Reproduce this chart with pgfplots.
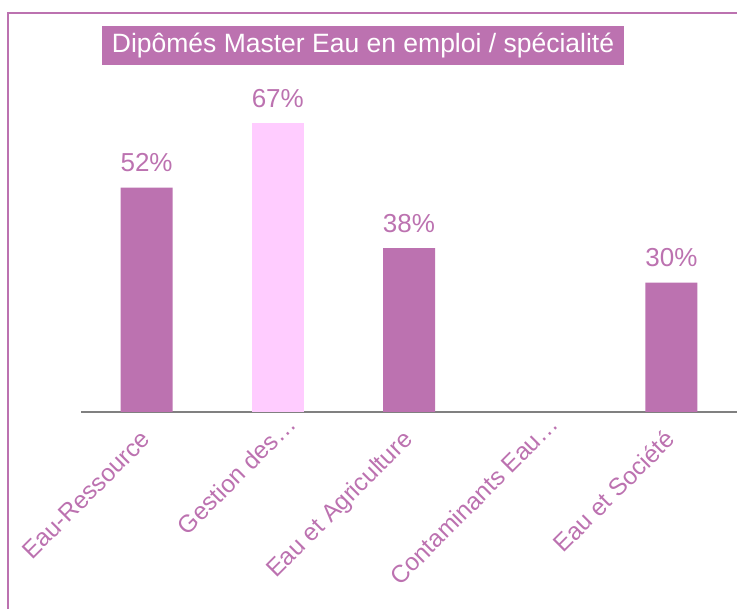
\documentclass[border=0pt]{standalone}
\usepackage{pgfplots}
\pgfplotsset{compat=1.18}
\usepackage{fontspec}
\setmainfont{Liberation Sans}
\definecolor{mauve}{HTML}{BC72B0}
\definecolor{rose}{HTML}{FFCCFF}
\definecolor{axgray}{HTML}{808080}
\newcommand{\bigf}{\fontsize{24.5bp}{30bp}\selectfont}
\begin{document}
\begin{tikzpicture}[x=1bp,y=1bp]
\useasboundingbox (0,0) rectangle (737,609);
\draw[mauve, line width=1.6bp] (8,-5) -- (8,596) -- (745,596);
\node[fill=mauve, text=white, minimum width=522bp, minimum height=39bp, inner sep=0pt, font=\fontsize{26.5bp}{30bp}\selectfont] at (363,563.5) {Dipômés Master Eau en emploi / spécialité};
\begin{axis}[
  at={(81bp,197bp)}, anchor=south west,
  scale only axis,
  width=656bp, height=345bp,
  xmin=-0.5, xmax=4.5, ymin=0, ymax=80,
  clip=false,
  axis x line=bottom, axis y line=none,
  x axis line style={axgray, line width=1.8bp, -},
  xtick={0,1,2,3,4},
  xticklabels={Eau-Ressource, Gestion des…\hspace*{-21bp}, Eau et Agriculture, Contaminants Eau…\hspace*{-21bp}, Eau et Société},
  major tick length=0pt,
  xticklabel style={xshift=5bp, yshift=-29bp, rotate=45, anchor=base east, inner sep=0pt, text=mauve, font=\bigf},
  ytick=\empty,
  /pgf/number format/assume math mode=true,
  ybar, bar width=52bp, bar shift=0pt,
  nodes near coords={\pgfmathprintnumber{\pgfplotspointmeta}\%},
  nodes near coords style={anchor=base, inner sep=0pt, yshift=16bp, text=mauve, font=\fontsize{26bp}{30bp}\selectfont},
]
\addplot[fill=mauve, draw=none] coordinates {(0,52) (2,38) (4,30)};
\addplot[fill=rose, draw=none] coordinates {(1,67)};
\end{axis}
\end{tikzpicture}
\end{document}
